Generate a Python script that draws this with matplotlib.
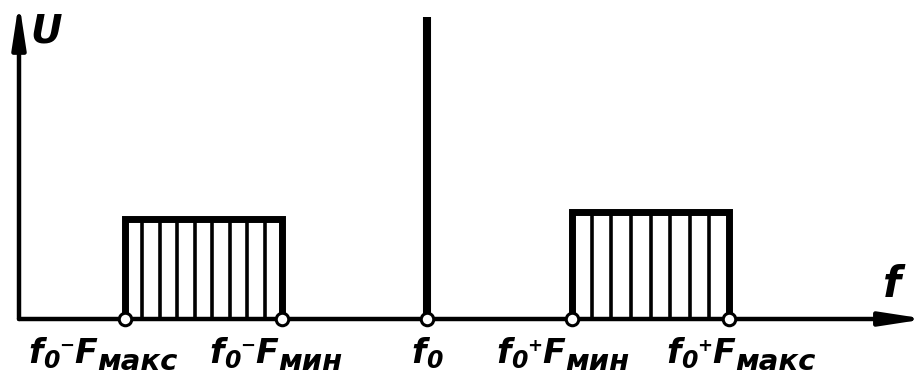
import numpy as np
import matplotlib
matplotlib.use('Agg')
import matplotlib.pyplot as plt
from matplotlib.transforms import IdentityTransform

# AM spectrum: carrier at f0 with lower and upper sidebands
f0 = 10.0
F_min = 1.45
F_max = 3.02
carrier_amp = 1.0
lower_amp = 0.33
upper_amp = 0.355
lower_strips = 9
upper_strips = 8

tick_freqs = [f0 - F_max, f0 - F_min, f0, f0 + F_min, f0 + F_max]
tick_labels = [
    [('f', 'main'), ('0', 'digit'), ('\u2212', 'sign'), ('F', 'main'), ('макс', 'sub')],
    [('f', 'main'), ('0', 'digit'), ('\u2212', 'sign'), ('F', 'main'), ('мин', 'sub')],
    [('f', 'main'), ('0', 'digit')],
    [('f', 'main'), ('0', 'digit'), ('+', 'sign'), ('F', 'main'), ('мин', 'sub')],
    [('f', 'main'), ('0', 'digit'), ('+', 'sign'), ('F', 'main'), ('макс', 'sub')],
]
label_shift = [-22, -6, 0, -9, 12]   # px, horizontal nudge of each label

# font size and vertical offset (px) for each kind of label piece
piece_style = {'main': (24, 0), 'sub': (21, -7), 'digit': (17, -5), 'sign': (13, 12)}

W, H, DPI = 915, 385, 100
fig = plt.figure(figsize=(W / DPI, H / DPI), dpi=DPI)
ax = fig.add_axes([0, 0, 1, 1])
ax.axis('off')
x_left = f0 - 4.27
ax.set_xlim(x_left, x_left + 9.15)
ax.set_ylim(-66 / 302, (H - 66) / 302)

x_org = x_left + 0.19
lw_axis = 3.2
arrow = dict(arrowstyle='-|>,head_length=2.6,head_width=0.4', mutation_scale=10,
             lw=lw_axis, color='black', shrinkA=0, shrinkB=0)
ax.annotate('', xy=(x_org, 1.05), xytext=(x_org, 0), arrowprops=arrow,
            annotation_clip=False)
ax.annotate('', xy=(x_left + 9.26, 0), xytext=(x_org, 0), arrowprops=arrow,
            annotation_clip=False)

ax.text(x_org + 0.27, 0.914, 'U', fontsize=28, style='italic', weight='bold',
        ha='center', va='baseline')
ax.text(f0 + 4.65, 0.073, 'f', fontsize=30, style='italic', weight='bold',
        ha='center', va='baseline')


def sideband(lo, hi, amp, strips):
    for xs in np.linspace(lo, hi, strips + 1)[1:-1]:
        ax.plot([xs, xs], [0, amp], color='black', lw=2.6, solid_capstyle='butt')
    ax.plot([lo, lo, hi, hi], [0, amp, amp, 0], color='black', lw=5,
            solid_joinstyle='miter', solid_capstyle='butt')


sideband(f0 - F_max, f0 - F_min, lower_amp, lower_strips)
sideband(f0 + F_min, f0 + F_max, upper_amp, upper_strips)

# carrier
ax.plot([f0, f0], [0, carrier_amp], color='black', lw=5.8, solid_capstyle='butt')

ax.plot(tick_freqs, [0] * len(tick_freqs), 'o', ms=9, mfc='white', mec='black',
        mew=2.2, zorder=5)

# labels built from pieces so the subscripts keep their own size
fig.canvas.draw()
renderer = fig.canvas.get_renderer()
base_y = 22


def put_label(x, pieces, shift):
    parts = []
    for s, kind in pieces:
        size, dy = piece_style[kind]
        t = fig.text(0, 0, s, transform=IdentityTransform(), fontsize=size,
                     style='italic', weight='bold', ha='left', va='baseline')
        parts.append((t, t.get_window_extent(renderer).width, dy))
    total = sum(p[1] for p in parts)
    cur = ax.transData.transform((x, 0))[0] + shift - total / 2
    for t, w, dy in parts:
        t.set_position((cur, base_y + dy))
        cur += w


for x, pieces, sh in zip(tick_freqs, tick_labels, label_shift):
    put_label(x, pieces, sh)

fig.savefig('out.png', dpi=DPI, facecolor='white')
